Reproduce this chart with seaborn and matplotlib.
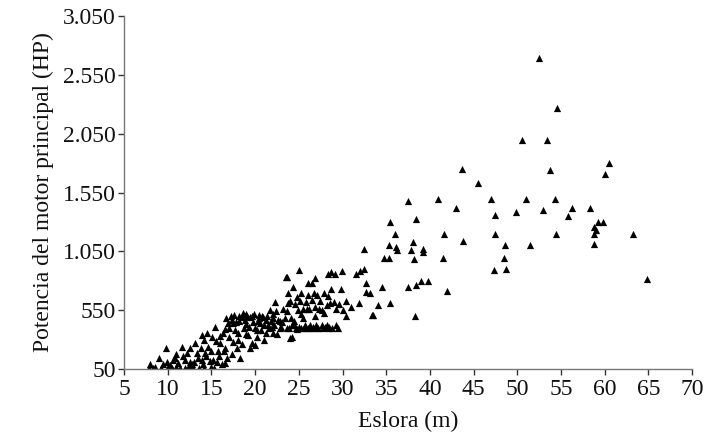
import matplotlib
matplotlib.use("Agg")
import matplotlib.pyplot as plt
import seaborn as sns
import pandas as pd
from matplotlib.ticker import FixedLocator, FuncFormatter

# Eslora (m) and main-engine power (HP)
eslora = [
    7.9, 8.0, 8.3, 8.6, 9.0, 9.2, 9.5, 9.8, 9.9, 10.0, 10.3,
    10.6, 10.8, 11.0, 11.2, 11.6, 11.8, 12.0, 12.2, 12.4, 12.6, 12.9, 13.1, 13.3, 13.5,
    13.9, 14.0, 14.3, 14.5, 14.6, 14.8, 15.0, 15.2, 15.4, 15.5, 15.7, 15.9, 16.0, 16.2,
    10.5, 11.4, 12.0, 12.8, 13.6, 14.2, 14.9, 15.3, 13.8, 12.5, 11.0, 16.6,
    12.3, 13.0, 13.9, 14.4, 15.6, 16.4, 15.1, 14.1,
    16.3, 16.5, 16.8, 16.9, 17.0, 17.3, 17.5, 17.7, 17.9, 18.0, 18.3, 18.5, 18.6, 18.7,
    19.0, 19.2, 19.4, 19.4, 19.6,
    17.0, 17.8, 18.2, 18.8, 19.0, 19.7, 20.3, 20.6, 21.2, 21.8, 22.6, 18.0, 19.3, 20.0,
    21.0, 22.0, 17.5, 18.5, 16.0, 16.6,
    17.2, 17.6, 18.1, 18.9, 19.1, 19.9, 20.4, 21.4, 22.1, 22.4, 16.7, 17.4,
    20.7, 21.6, 22.2, 22.9,
    19.8, 20.0, 20.2, 20.2, 20.5, 20.8, 20.9, 21.0, 21.3, 21.5, 21.7, 21.9, 22.0, 22.3,
    22.5, 22.8, 23.1,
    23.4, 23.5, 23.6, 23.8, 23.8, 24.0, 24.0, 24.2, 24.5, 24.8, 24.9, 25.0, 25.1, 25.3,
    25.5, 25.7, 26.1, 26.3,
    23.0, 23.9, 24.4, 25.0, 25.3, 26.0, 26.6, 27.2, 27.6, 28.0, 28.8, 23.2, 24.6, 25.9,
    26.9, 27.1, 26.0, 29.0, 29.6, 30.0, 24.3, 26.8,
    23.6, 24.2, 24.7, 25.6, 26.3, 26.9, 27.8, 28.4, 29.5,
    23.7, 24.1, 25.2, 25.8, 26.2, 27.3, 28.6, 29.2, 24.8, 27.9, 25.5, 26.7,
    26.5, 26.5, 26.8, 27.0, 27.4, 27.7, 27.9, 28.2, 28.2, 28.3, 28.3, 28.5, 28.7, 28.7,
    29.1, 29.3, 29.8, 29.9,
    30.4, 30.4, 31.0, 31.5, 31.9, 32.0, 32.5, 32.5, 32.7, 32.7, 33.1, 33.4, 33.5, 34.1,
    34.5, 34.7,
    35.3, 35.3, 35.4, 35.4, 36.0, 36.1, 36.2, 37.5, 37.5, 37.8, 38.1, 38.2, 38.3, 38.4,
    38.4, 39.0, 39.2, 39.2, 39.8,
    40.9, 41.5, 41.6, 42.0, 43.0, 43.7, 43.8, 45.5, 47.0, 47.3, 47.4, 47.4, 48.5, 48.6,
    48.7, 49.9,
    50.5, 51.0, 51.5, 52.5, 52.9, 53.4, 53.7, 54.3, 54.4, 54.5, 55.8, 56.3, 58.3, 58.8,
    58.8, 58.8, 59.0, 59.2, 59.8, 60.0, 60.5, 63.2, 64.8,
]
potencia = [
    60, 95, 55, 70, 145, 60, 90, 230, 110, 65, 80,
    130, 145, 70, 100, 240, 160, 125, 185, 75, 110, 60, 270, 190, 140,
    340, 95, 185, 360, 240, 120, 70, 130, 410, 290, 200, 160, 270, 90,
    55, 55, 60, 90, 60, 55, 200, 60, 230, 230, 180, 100,
    55, 110, 130, 160, 110, 200, 320, 300,
    360, 230, 145, 440, 320, 180, 440, 380, 230, 300, 140, 490, 525, 400,
    350, 340, 490, 230, 270,
    400, 450, 460, 470, 430, 500, 460, 440, 470, 460, 470, 360, 410, 250,
    300, 360, 280, 260, 330, 390,
    500, 510, 500, 520, 500, 520, 510, 500, 520, 540, 480, 470,
    380, 400, 420, 460,
    450, 400, 380, 320, 480, 500, 490, 420, 360, 425, 550, 410, 480, 620,
    350, 400, 450,
    480, 830, 830, 700, 610, 630, 310, 320, 420, 390, 550, 890, 630, 700,
    480, 425, 780, 420,
    410, 400, 460, 410, 400, 400, 410, 400, 420, 410, 400, 560, 600, 560,
    580, 680, 680, 620, 600, 550, 750, 820,
    400, 420, 400, 400, 400, 400, 400, 410, 400,
    540, 480, 520, 620, 560, 560, 610, 560, 660, 700, 560, 700,
    780, 640, 500, 420, 630, 550, 525, 590, 425, 670, 860, 400, 875, 730,
    860, 420, 730, 880,
    630, 500, 580, 860, 610, 880, 900, 1070, 780, 705, 700, 510, 510, 590,
    750, 995,
    995, 1105, 1300, 610, 1200, 1090, 1060, 1480, 750, 1060, 1130, 985, 500, 1325,
    765, 800, 1070, 1045, 800,
    1495, 995, 1200, 715, 1420, 1750, 1140, 1630, 1495, 890, 1360, 1200, 995, 1105,
    900, 1385,
    2000, 1495, 1105, 2690, 1400, 2000, 1740, 1495, 1200, 2270, 1350, 1420, 1420, 1255,
    1200, 1110, 1230, 1300, 1300, 1710, 1800, 1200, 815,
]

x_ticks = [5, 10, 15, 20, 25, 30, 35, 40, 45, 50, 55, 60, 65, 70]
y_ticks = [50, 550, 1050, 1550, 2050, 2550, 3050]

df = pd.DataFrame({"Eslora": eslora, "Potencia": potencia})

sns.set_style("ticks")
plt.rcParams["font.family"] = ["Liberation Serif", "DejaVu Serif"]

fig = plt.figure(figsize=(7.07, 4.48), dpi=100)
ax = fig.add_axes([0.1754, 0.1763, 0.8036, 0.788])

sns.scatterplot(data=df, x="Eslora", y="Potencia", marker="^", color="black",
                s=27, linewidth=0, ax=ax, legend=False)

ax.set_xlim(5, 70)
ax.set_ylim(50, 3050)
ax.xaxis.set_major_locator(FixedLocator(x_ticks))
ax.yaxis.set_major_locator(FixedLocator(y_ticks))
ax.yaxis.set_major_formatter(FuncFormatter(lambda v, p: f"{int(v):,}".replace(",", ".")))

for s in ["top", "right"]:
    ax.spines[s].set_visible(False)
for s in ["left", "bottom"]:
    ax.spines[s].set_color("#777777")
    ax.spines[s].set_linewidth(1.0)

ax.tick_params(axis="both", direction="out", length=4, width=1, color="#333333",
               labelsize=17, labelcolor="#111111")
ax.tick_params(axis="y", pad=2)
ax.tick_params(axis="x", pad=3)

ax.set_xlabel("Eslora (m)", fontsize=17, color="#111111", labelpad=8)
ax.set_ylabel("Potencia del motor principal (HP)", fontsize=17, color="#111111", labelpad=6)

fig.savefig("out.png", dpi=100)
